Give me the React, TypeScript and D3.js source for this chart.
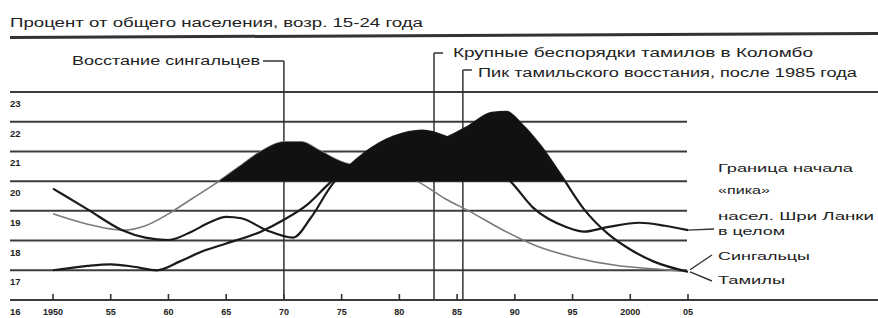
import React from "react";
import * as d3 from "d3";

const title = "Процент от общего населения, возр. 15-24 года";

const yTicks = [16, 17, 18, 19, 20, 21, 22, 23];
const xTickYears = [1950, 1955, 1960, 1965, 1970, 1975, 1980, 1985, 1990, 1995, 2000, 2005];
const xTickLabels = ["1950", "55", "60", "65", "70", "75", "80", "85", "90", "95", "2000", "05"];

const threshold = 20;

// Население Шри-Ланки в целом (thick line)
const totalYears = [1950, 1953, 1956, 1958, 1960, 1962, 1963.5, 1965, 1966.3, 1968.5, 1970.8, 1972.3, 1974.2, 1975.5, 1977, 1979.5, 1982, 1984, 1986, 1988, 1989.6, 1991.6, 1994.5, 1996, 1998, 2000.8, 2003, 2005];
const totalValues = [19.75, 19.05, 18.35, 18.1, 18.02, 18.3, 18.6, 18.8, 18.75, 18.35, 18.1, 18.75, 19.9, 20.45, 20.95, 21.5, 21.7, 21.5, 21.05, 20.5, 20.0, 19.1, 18.45, 18.3, 18.45, 18.6, 18.5, 18.35];

// Сингальцы (thin grey line)
const sinhalaYears = [1950, 1953, 1956, 1958, 1960, 1962, 1964, 1966, 1968, 1970, 1971.5, 1973, 1975, 1977, 1979, 1981.5, 1984, 1986, 1989, 1992, 1995, 1999, 2002, 2005];
const sinhalaValues = [18.9, 18.55, 18.35, 18.5, 18.9, 19.4, 19.9, 20.45, 21.0, 21.32, 21.32, 21.05, 20.65, 20.45, 20.3, 20.0, 19.4, 19.0, 18.35, 17.8, 17.45, 17.15, 17.05, 16.95];

// Тамилы
const tamilYears = [1950, 1953, 1955, 1957, 1959, 1961, 1963, 1965, 1968, 1970, 1972, 1974, 1975.5, 1978, 1981, 1984, 1986, 1988, 1989.3, 1990.5, 1992.2, 1994, 1996, 1998, 2000, 2002, 2005];
const tamilValues = [17.0, 17.15, 17.2, 17.12, 17.0, 17.3, 17.65, 17.9, 18.3, 18.7, 19.2, 19.95, 20.45, 20.85, 21.15, 21.45, 21.85, 22.3, 22.33, 21.95, 21.2, 20.2, 19.05, 18.25, 17.7, 17.3, 16.95];

const eventYears = [1970, 1983, 1985.5];

const W = 878;
const H = 318;

export default function App() {
  const x = d3.scaleLinear().domain([1950, 2005]).range([53, 688]);
  const y = d3.scaleLinear().domain([16, 23]).range([300, 92]);

  const toPts = (ys: number[], vs: number[]) => ys.map((yr, i) => [yr, vs[i]] as [number, number]);
  const total = toPts(totalYears, totalValues);
  const sinhala = toPts(sinhalaYears, sinhalaValues);
  const tamil = toPts(tamilYears, tamilValues);

  const line = d3
    .line<[number, number]>()
    .x((d) => x(d[0]))
    .y((d) => y(d[1]))
    .curve(d3.curveMonotoneX);
  const area = d3
    .area<[number, number]>()
    .x((d) => x(d[0]))
    .y0(y(16))
    .y1((d) => y(d[1]))
    .curve(d3.curveMonotoneX);

  const gridRight = 687;
  const ink = "#222";
  const font = "'Liberation Sans', Arial, sans-serif";

  return (
    <svg
      width={W}
      height={H}
      viewBox={`0 0 ${W} ${H}`}
      style={{ position: "fixed", left: 0, top: 0, background: "#fff" }}
      fontFamily={font}
    >
      <rect x={0} y={0} width={W} height={H} fill="#fff" />
      <defs>
        <clipPath id="aboveThreshold">
          <rect x={0} y={0} width={W} height={y(threshold)} />
        </clipPath>
      </defs>

      {/* title and rule */}
      <text x={10} y={26.5} fontSize={12.5} fill={ink} textLength={413} lengthAdjust="spacingAndGlyphs">
        {title}
      </text>
      <line x1={10} y1={37.5} x2={W} y2={33.5} stroke="#333" strokeWidth={3} />

      {/* gridlines */}
      {yTicks.map((v) => (
        <line
          key={"g" + v}
          x1={10}
          x2={v === 16 || v === 23 ? W : gridRight}
          y1={y(v)}
          y2={y(v)}
          stroke="#3c3c3c"
          strokeWidth={2}
        />
      ))}
      {yTicks.map((v) => (
        <text key={"yl" + v} x={10} y={y(v) + 15} fontSize={9.5} fontWeight="bold" fill={ink}>
          {v}
        </text>
      ))}

      {/* x ticks */}
      {xTickYears.map((yr, i) => (
        <g key={"xt" + yr}>
          <line x1={x(yr)} x2={x(yr)} y1={y(16) - 6} y2={y(16)} stroke="#333" strokeWidth={1.6} />
          <text x={x(yr)} y={315} fontSize={9} fontWeight="bold" fill={ink} textAnchor="middle">
            {xTickLabels[i]}
          </text>
        </g>
      ))}

      {/* event lines */}
      <line x1={263} y1={61} x2={x(eventYears[0])} y2={61} stroke="#333" strokeWidth={1.5} />
      <line x1={x(eventYears[0])} y1={61} x2={x(eventYears[0])} y2={y(16)} stroke="#333" strokeWidth={1.5} />
      <line x1={x(eventYears[1])} y1={53} x2={x(eventYears[1]) + 9} y2={53} stroke="#333" strokeWidth={1.5} />
      <line x1={x(eventYears[1])} y1={53} x2={x(eventYears[1])} y2={y(16)} stroke="#333" strokeWidth={1.5} />
      <line x1={x(eventYears[2])} y1={70} x2={x(eventYears[2]) + 9} y2={70} stroke="#333" strokeWidth={1.5} />
      <line x1={x(eventYears[2])} y1={70} x2={x(eventYears[2])} y2={y(16)} stroke="#333" strokeWidth={1.5} />

      <text x={72} y={64.5} fontSize={12} fill={ink} textLength={188} lengthAdjust="spacingAndGlyphs">
        Восстание сингальцев
      </text>
      <text x={453} y={57} fontSize={12} fill={ink} textLength={360} lengthAdjust="spacingAndGlyphs">
        Крупные беспорядки тамилов в Коломбо
      </text>
      <text x={478} y={76.5} fontSize={12} fill={ink} textLength={379} lengthAdjust="spacingAndGlyphs">
        Пик тамильского восстания, после 1985 года
      </text>

      {/* series lines */}
      <path d={line(sinhala) || ""} fill="none" stroke="#7a7a7a" strokeWidth={1.6} />
      <path d={line(total) || ""} fill="none" stroke="#1a1a1a" strokeWidth={2.2} />
      <path d={line(tamil) || ""} fill="none" stroke="#1a1a1a" strokeWidth={2.2} />

      {/* peak fill above threshold */}
      <g clipPath="url(#aboveThreshold)">
        <path d={area(sinhala) || ""} fill="#111" />
        <path d={area(total) || ""} fill="#111" />
        <path d={area(tamil) || ""} fill="#111" />
      </g>

      {/* legend */}
      <g fontSize={11} fill={ink}>
        <text x={718} y={172} textLength={135} lengthAdjust="spacingAndGlyphs">Граница начала</text>
        <text x={718} y={194} textLength={52} lengthAdjust="spacingAndGlyphs">«пика»</text>
        <text x={718} y={220} textLength={156} lengthAdjust="spacingAndGlyphs">насел. Шри Ланки</text>
        <text x={718} y={235} textLength={67} lengthAdjust="spacingAndGlyphs">в целом</text>
        <text x={718} y={260} textLength={92} lengthAdjust="spacingAndGlyphs">Сингальцы</text>
        <text x={718} y={284} textLength={67} lengthAdjust="spacingAndGlyphs">Тамилы</text>
      </g>
      <line x1={x(2005)} y1={y(totalValues[totalValues.length - 1])} x2={714} y2={229} stroke="#333" strokeWidth={1.4} />
      <line x1={x(2005) + 2} y1={y(sinhalaValues[sinhalaValues.length - 1]) - 2} x2={712} y2={255} stroke="#333" strokeWidth={1.4} />
      <line x1={x(2005) + 2} y1={y(tamilValues[tamilValues.length - 1])} x2={712} y2={281} stroke="#333" strokeWidth={1.4} />
    </svg>
  );
}
